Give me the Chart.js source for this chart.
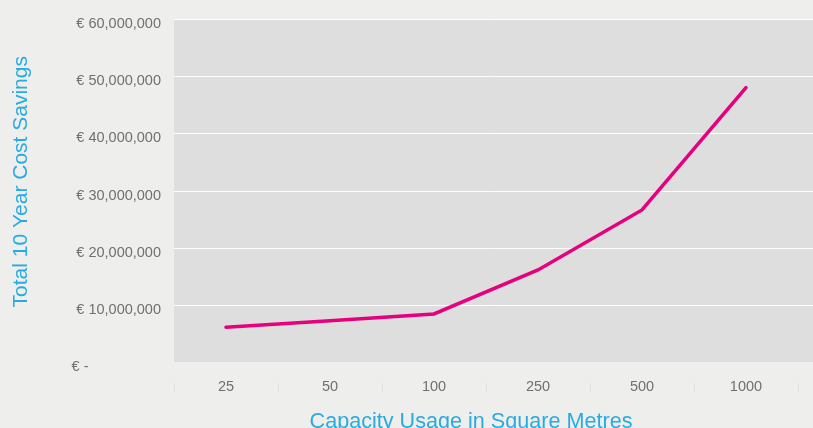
<!DOCTYPE html>
<html>
<head>
<meta charset="utf-8">
<script src="https://cdn.jsdelivr.net/npm/chart.js@4"></script>
<style>
  html, body { margin: 0; padding: 0; background: #eeefec; }
  canvas { display: block; }
</style>
</head>
<body>
<canvas id="savingsChart" width="813" height="428"></canvas>
<script>
const capacityLabels = ['25', '50', '100', '250', '500', '1000'];
const savingsValues = [6100000, 7200000, 8400000, 16100000, 26600000, 48000000];
const yTickValues = [0, 10000000, 20000000, 30000000, 40000000, 50000000, 60000000];
const yTickLabels = ['€ -', '€ 10,000,000', '€ 20,000,000', '€ 30,000,000', '€ 40,000,000', '€ 50,000,000', '€ 60,000,000'];

const NB = '\u00a0';
const tickColor = '#707070';
const titleColor = '#29abe2';

// grey plot panel + white gridlines running to the right edge, small separators under the axis
const plotBackground = {
    id: 'plotBackground',
    beforeDatasetsDraw(chart) {
        const { ctx, chartArea } = chart;
        const x = chart.scales.x;
        const y = chart.scales.y;
        const top = y.getPixelForValue(y.max);
        const bottom = y.getPixelForValue(y.min);
        ctx.save();
        ctx.fillStyle = '#dedede';
        ctx.fillRect(chartArea.left, top, chart.width - chartArea.left, bottom - top);
        ctx.strokeStyle = '#ffffff';
        ctx.lineWidth = 1;
        y.ticks.forEach((t) => {
            if (t.value === 0) return;
            const py = Math.round(y.getPixelForValue(t.value)) + 0.5;
            ctx.beginPath();
            ctx.moveTo(chartArea.left, py);
            ctx.lineTo(chart.width, py);
            ctx.stroke();
        });
        ctx.strokeStyle = '#dfe1de';
        for (let i = 0; i <= capacityLabels.length; i++) {
            const px = Math.round(x.getPixelForValue(i - 0.5)) + 0.5;
            ctx.beginPath();
            ctx.moveTo(px, bottom + 21);
            ctx.lineTo(px, bottom + 30);
            ctx.stroke();
        }
        ctx.restore();
    }
};

new Chart(document.getElementById('savingsChart').getContext('2d'), {
    type: 'line',
    data: {
        labels: capacityLabels,
        datasets: [{
            label: 'Total 10 Year Cost Savings',
            data: savingsValues,
            borderColor: '#e6007e',
            borderWidth: 3.5,
            borderCapStyle: 'round',
            pointRadius: 0,
            tension: 0,
            fill: false
        }]
    },
    options: {
        responsive: false,
        animation: false,
        devicePixelRatio: 1,
        layout: { padding: { top: 19, right: 15, left: 0, bottom: 0 } },
        plugins: {
            legend: { display: false },
            tooltip: { enabled: false }
        },
        scales: {
            x: {
                offset: true,
                grid: { display: false, drawTicks: false },
                border: { display: false },
                ticks: {
                    color: tickColor,
                    padding: 16,
                    font: { family: 'Liberation Sans', size: 14.5 }
                },
                title: {
                    display: true,
                    text: 'Capacity Usage in Square Metres' + NB.repeat(5),
                    color: titleColor,
                    font: { family: 'Liberation Sans', size: 21.6, weight: 'normal' },
                    padding: { top: 0, bottom: -7 }
                },
                afterFit(scale) { scale.height = 66; }
            },
            y: {
                min: 0,
                max: 60000000,
                afterBuildTicks(scale) {
                    scale.ticks = yTickValues.map((v) => ({ value: v }));
                },
                grid: { display: false, drawTicks: false },
                border: { display: false },
                ticks: {
                    color: tickColor,
                    padding: 13,
                    labelOffset: 5,
                    font: { family: 'Liberation Sans', size: 14.5 },
                    callback(value) {
                        const i = yTickValues.indexOf(value);
                        const text = yTickLabels[i];
                        return i === 0 ? text + NB.repeat(18) : text;
                    }
                },
                title: {
                    display: true,
                    text: NB.repeat(3) + 'Total 10 Year Cost Savings',
                    color: titleColor,
                    font: { family: 'Liberation Sans', size: 21, weight: 'normal' },
                    padding: { top: 9, bottom: 0 }
                },
                afterFit(scale) {
                    scale.width = 174;
                    scale.paddingTop = 0;
                    scale.paddingBottom = 0;
                }
            }
        }
    },
    plugins: [plotBackground]
});
</script>
</body>
</html>
